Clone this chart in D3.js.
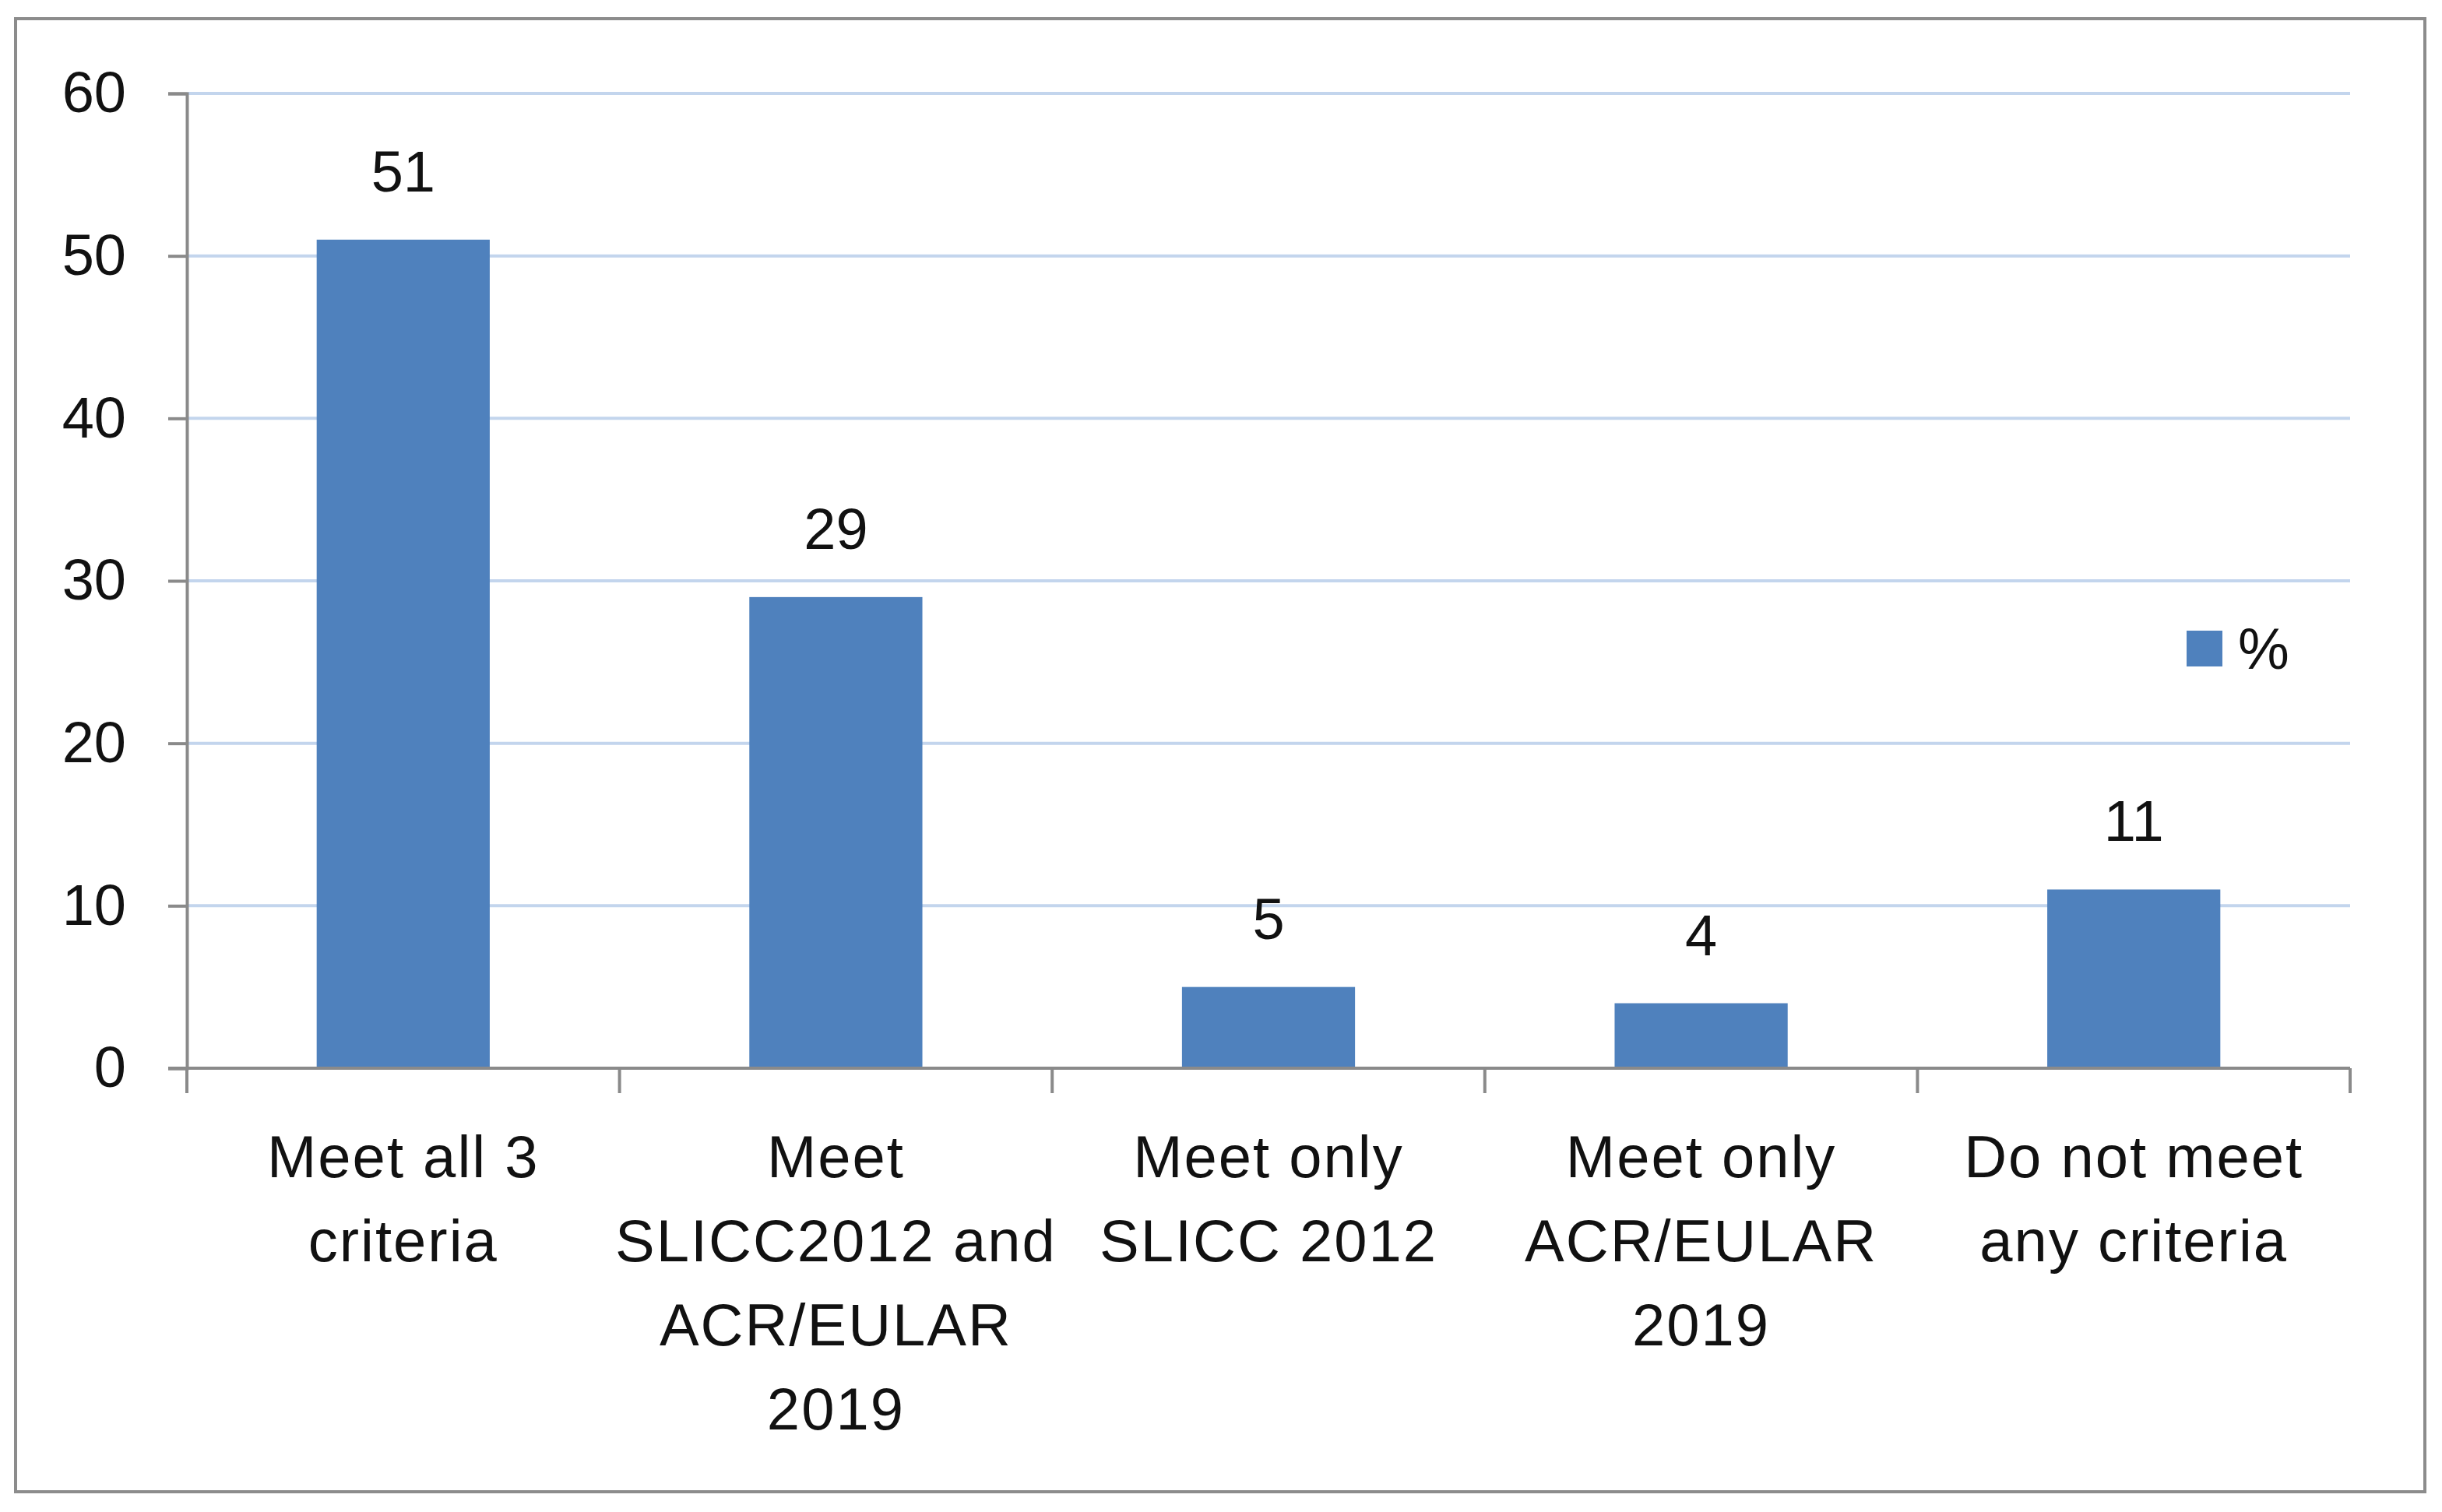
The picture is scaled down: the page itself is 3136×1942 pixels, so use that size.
<!DOCTYPE html>
<html>
<head>
<meta charset="utf-8">
<script src="https://cdn.jsdelivr.net/npm/d3@7"></script>
<style>
  html, body { margin: 0; padding: 0; background: #fff; }
  svg { display: block; }
  text { font-family: "Liberation Sans", Arial, sans-serif; fill: #111; }
</style>
</head>
<body>
<svg id="chart" width="3136" height="1942"></svg>
<script>
// ---- data ----
const categories = ["Meet all 3 criteria", "Meet SLICC2012 and ACR/EULAR 2019", "Meet only SLICC 2012", "Meet only ACR/EULAR 2019", "Do not meet any criteria"];
const categoryLines = [
  ["Meet all 3", "criteria"],
  ["Meet", "SLICC2012 and", "ACR/EULAR", "2019"],
  ["Meet only", "SLICC 2012"],
  ["Meet only", "ACR/EULAR", "2019"],
  ["Do not meet", "any criteria"]
];
const values = [51, 29, 5, 4, 11];
const yTicks = [0, 10, 20, 30, 40, 50, 60];
const seriesName = "%";

// ---- layout ----
const svg = d3.select("#chart");
const plotLeft = 240, plotRight = 3018, plotTop = 120, plotBottom = 1372;
const barColor = "#4f81bd";
const axisColor = "#8a8a8a";
const gridColor = "#c3d5ed";

// outer border
svg.append("rect")
  .attr("x", 20).attr("y", 24).attr("width", 3094).attr("height", 1892)
  .attr("fill", "#fff").attr("stroke", "#8c8c8c").attr("stroke-width", 4);

const x = d3.scaleBand().domain(categories).range([plotLeft, plotRight]).paddingInner(0.6).paddingOuter(0.3);
const y = d3.scaleLinear().domain([0, 60]).range([plotBottom, plotTop]);

// gridlines
svg.append("g").selectAll("line")
  .data(yTicks.filter(d => d > 0))
  .join("line")
  .attr("x1", plotLeft).attr("x2", plotRight)
  .attr("y1", d => y(d)).attr("y2", d => y(d))
  .attr("stroke", gridColor).attr("stroke-width", 4);

// bars
svg.append("g").selectAll("rect")
  .data(values)
  .join("rect")
  .attr("x", (d, i) => x(categories[i]))
  .attr("width", x.bandwidth())
  .attr("y", d => y(d))
  .attr("height", d => y(0) - y(d))
  .attr("fill", barColor);

// value labels
svg.append("g").selectAll("text")
  .data(values)
  .join("text")
  .attr("x", (d, i) => x(categories[i]) + x.bandwidth() / 2)
  .attr("y", d => y(d) - 62)
  .attr("text-anchor", "middle")
  .attr("font-size", 74)
  .text(d => d);

// y axis
const yAxis = svg.append("g")
  .attr("transform", `translate(${plotLeft},0)`)
  .call(d3.axisLeft(y).tickValues(yTicks).tickSize(24).tickPadding(54));
yAxis.select(".domain").attr("stroke", axisColor).attr("stroke-width", 4);
yAxis.selectAll(".tick line").attr("stroke", axisColor).attr("stroke-width", 4);
yAxis.selectAll(".tick text").attr("font-size", 74).attr("fill", "#111")
  .attr("font-family", "Liberation Sans, Arial, sans-serif");

// x axis line and boundary ticks
const step = x.step();
const boundaries = categories.map(c => x(c) - step * x.paddingInner() / 2)
  .concat([x(categories[categories.length - 1]) + x.bandwidth() + step * x.paddingInner() / 2]);
svg.append("line")
  .attr("x1", plotLeft - 24).attr("x2", plotRight)
  .attr("y1", plotBottom).attr("y2", plotBottom)
  .attr("stroke", axisColor).attr("stroke-width", 4);
svg.append("g").selectAll("line")
  .data(boundaries)
  .join("line")
  .attr("x1", d => d).attr("x2", d => d)
  .attr("y1", plotBottom).attr("y2", plotBottom + 32)
  .attr("stroke", axisColor).attr("stroke-width", 4);

// category labels
const catG = svg.append("g").selectAll("text")
  .data(categoryLines)
  .join("text")
  .attr("text-anchor", "middle")
  .attr("font-size", 76)
  .attr("letter-spacing", 2);
catG.each(function(lines, i) {
  const cx = x(categories[i]) + x.bandwidth() / 2;
  d3.select(this).selectAll("tspan")
    .data(lines)
    .join("tspan")
    .attr("x", cx)
    .attr("y", (d, j) => 1512 + j * 108)
    .text(d => d);
});

// legend
svg.append("rect")
  .attr("x", 2808).attr("y", 810).attr("width", 46).attr("height", 46)
  .attr("fill", barColor);
svg.append("text")
  .attr("x", 2874).attr("y", 859)
  .attr("font-size", 74)
  .text(seriesName);
</script>
</body>
</html>
